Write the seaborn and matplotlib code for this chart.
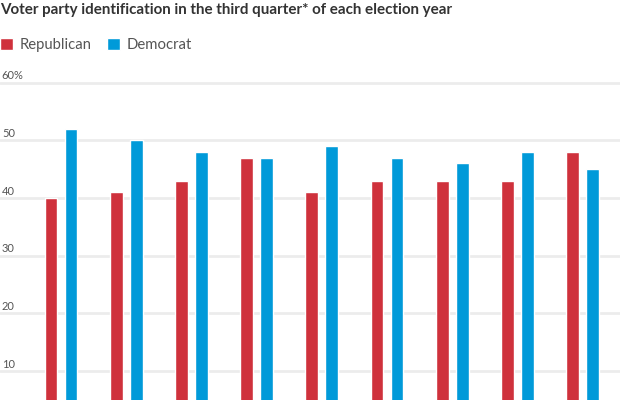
import pandas as pd
import matplotlib.pyplot as plt
import seaborn as sns

# election years (x labels are cut off in the reference)
years = ['1992', '1996', '2000', '2004', '2008', '2012', '2016', '2020', '2024']
republican = [40, 41, 43, 47, 41, 43, 43, 43, 48]
democrat = [52, 50, 48, 47, 49, 47, 46, 48, 45]
y_ticks = [10, 20, 30, 40, 50, 60]
y_labels = ['10', '20', '30', '40', '50', '60%']

df = pd.DataFrame({
    'year': years * 2,
    'party': ['Republican'] * len(years) + ['Democrat'] * len(years),
    'share': republican + democrat,
})

sns.set_style('white')
plt.rcParams['font.family'] = ['Lato', 'DejaVu Sans']

fig = plt.figure(figsize=(6.2, 4), dpi=100)
ax = fig.add_axes([0, 0, 1, 0.825])

sns.barplot(data=df, x='year', y='share', hue='party',
            hue_order=['Republican', 'Democrat'],
            palette={'Republican': '#cf313c', 'Democrat': '#009ad9'},
            width=0.614, gap=0.36, saturation=1, ax=ax, zorder=3)

ax.set_xlim(-0.936, 8.574)
ax.set_ylim(5.0, 62.2)
ax.set_yticks(y_ticks)
ax.yaxis.grid(True, color='#ececec', linewidth=2)
ax.set_axisbelow(True)
ax.tick_params(left=False, bottom=False, labelleft=False, labelbottom=False)
ax.set_xlabel('')
ax.set_ylabel('')
for s in ax.spines.values():
    s.set_visible(False)

for v, lab in zip(y_ticks, y_labels):
    ax.text(0.003, v + 0.25, lab, transform=ax.get_yaxis_transform(),
            ha='left', va='bottom', fontsize=8, color='#555555')

handles, labels = ax.get_legend_handles_labels()
ax.legend(handles, labels, loc='upper left', bbox_to_anchor=(0.0, 0.905),
          bbox_transform=fig.transFigure, ncol=2, frameon=False,
          fontsize=10.7, handlelength=0.85, handleheight=0.85,
          handletextpad=0.5, columnspacing=1.0, labelcolor='#555555',
          borderaxespad=0, borderpad=0)

fig.text(0.0, 0.992, 'Voter party identification in the third quarter* of each election year',
         ha='left', va='top', fontsize=10.9, fontweight='bold', color='#333333')

fig.savefig('out.png', dpi=100)
